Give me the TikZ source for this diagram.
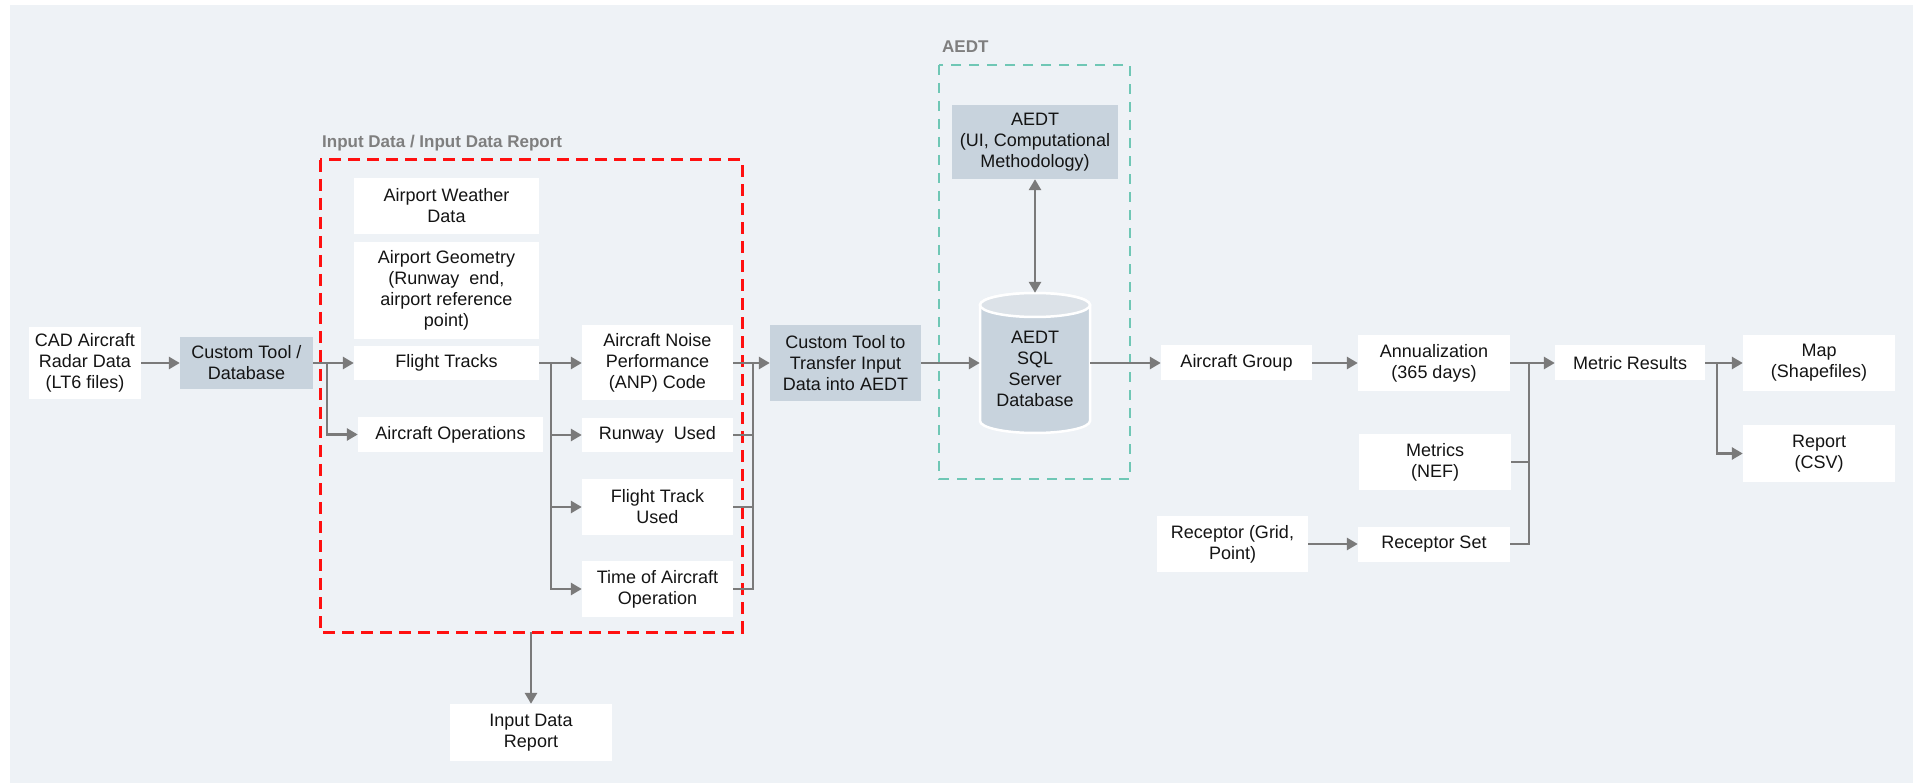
\documentclass[tikz,border=0pt]{standalone}
\usepackage{fontspec}
\setmainfont{Liberation Sans}
\usetikzlibrary{arrows.meta}
\definecolor{bgc}{HTML}{EEF2F6}
\definecolor{boxc}{HTML}{C8D3DD}
\definecolor{dbtop}{HTML}{DCE2E8}
\definecolor{arrc}{HTML}{7A7A7A}
\definecolor{txtc}{HTML}{141414}
\definecolor{redc}{HTML}{FF1010}
\definecolor{tealc}{HTML}{6FC7B5}
\definecolor{lblc}{HTML}{7F7F7F}
\tikzset{
  wbox/.style={fill=white, inner sep=0pt, align=center, text=txtc, font=\fontsize{18}{21}\selectfont},
  gbox/.style={wbox, fill=boxc},
  conn/.style={draw=arrc, line width=2.8pt, -{Triangle[length=11pt,width=12pt]}},
  conn2/.style={draw=arrc, line width=2.8pt, {Triangle[length=11pt,width=12pt]}-{Triangle[length=11pt,width=12pt]}},
  plain/.style={draw=arrc, line width=2.8pt},
  grplabel/.style={anchor=west, inner sep=0pt, text=lblc, font=\fontsize{17}{20}\selectfont\bfseries},
}
\begin{document}
\begin{tikzpicture}[x=1pt,y=-1pt]
\useasboundingbox (0,0) rectangle (1915,783);
\fill[white] (0,0) rectangle (1915,783);
\fill[bgc] (10,5) rectangle (1913,783);

% group frames
\draw[redc, line width=3pt, dash pattern=on 12pt off 7pt] (320,160) rectangle (742,632);
\node[grplabel] (lblin) at (322,143) {Input Data / Input Data Report};
\draw[tealc, line width=2.5pt, dash pattern=on 10pt off 8pt] (939,65) rectangle (1130,479);
\node[grplabel] (lblaedt) at (942,47) {AEDT};

% nodes
\node[wbox, minimum width=112, minimum height=72] (cad) at (85,363) {CAD Aircraft\\Radar Data\\(LT6 files)};
\node[gbox, minimum width=133, minimum height=52] (ct) at (246.5,363) {Custom Tool /\\Database};
\node[wbox, minimum width=185, minimum height=56] (weather) at (446.5,206) {Airport Weather\\Data};
\node[wbox, minimum width=185, minimum height=97] (geom) at (446.5,290.5) {Airport Geometry\\(Runway\ \ end,\\airport reference\\point)};
\node[wbox, minimum width=185, minimum height=34] (ft) at (446.5,363) {Flight Tracks};
\node[wbox, minimum width=185, minimum height=35] (ao) at (450.5,434.5) {Aircraft Operations};
\node[wbox, minimum width=151, minimum height=75] (anp) at (657.5,363) {Aircraft Noise\\Performance\\(ANP) Code};
\node[wbox, minimum width=151, minimum height=34] (ru) at (657.5,435) {Runway\ \ Used};
\node[wbox, minimum width=151, minimum height=56] (ftu) at (657.5,507) {Flight Track\\Used};
\node[wbox, minimum width=151, minimum height=56] (time) at (657.5,589) {Time of Aircraft\\Operation};
\node[wbox, minimum width=162, minimum height=57] (idr) at (531,732.5) {Input Data\\Report};
\node[gbox, minimum width=151, minimum height=76] (ctt) at (845.5,363) {Custom Tool to\\Transfer Input\\Data into AEDT};
\node[gbox, minimum width=166, minimum height=74] (ui) at (1035,142) {AEDT\\(UI, Computational\\Methodology)};

% database cylinder
\path[fill=boxc, draw=white, line width=2.5pt] (980,305) -- (980,421)
  arc[start angle=180, end angle=0, x radius=55, y radius=12] -- (1090,305)
  arc[start angle=0, end angle=-180, x radius=55, y radius=12] -- cycle;
\path[fill=dbtop, draw=white, line width=2.5pt] (1035,305) ellipse [x radius=55, y radius=12];
\node[inner sep=0pt, minimum width=110, minimum height=140] (db) at (1035,363) {};
\node[wbox, fill=none] (dbtxt) at (1035,369) {AEDT\\SQL\\Server\\Database};

\node[wbox, minimum width=151, minimum height=35] (ag) at (1236.5,363) {Aircraft Group};
\node[wbox, minimum width=152, minimum height=56] (ann) at (1434,363) {Annualization\\(365 days)};
\node[wbox, minimum width=152, minimum height=56] (met) at (1435,462) {Metrics\\(NEF)};
\node[wbox, minimum width=151, minimum height=56] (rec) at (1232.5,544) {Receptor (Grid,\\Point)};
\node[wbox, minimum width=152, minimum height=35] (rs) at (1434,544) {Receptor Set};
\node[wbox, minimum width=150, minimum height=35] (mr) at (1630,363) {Metric Results};
\node[wbox, minimum width=152, minimum height=56] (map) at (1819,363) {Map\\(Shapefiles)};
\node[wbox, minimum width=152, minimum height=57] (rep) at (1819,453.5) {Report\\(CSV)};

% branch points
\coordinate (b1) at (327,363);
\coordinate (b2) at (551,363);
\coordinate (b3) at (753,363);
\coordinate (b4) at (1529,363);
\coordinate (b5) at (1717,363);
\coordinate (rb) at (531,632);

% connectors
\draw[conn] (cad.east) -- (ct.west);
\draw[conn] (ct.east) -- (ft.west);
\draw[conn] (b1) |- (ao.west);
\draw[conn] (ft.east) -- (anp.west);
\draw[conn] (b2) |- (ru.west);
\draw[conn] (b2) |- (ftu.west);
\draw[conn] (b2) |- (time.west);
\draw[conn] (anp.east) -- (ctt.west);
\draw[plain] (ru.east) -| (b3);
\draw[plain] (ftu.east) -| (b3);
\draw[plain] (time.east) -| (b3);
\draw[conn] (ctt.east) -- (db.west);
\draw[conn2] (ui.south) -- (db.north);
\draw[conn] (db.east) -- (ag.west);
\draw[conn] (ag.east) -- (ann.west);
\draw[conn] (ann.east) -- (mr.west);
\draw[plain] (met.east) -| (b4);
\draw[plain] (rs.east) -| (b4);
\draw[conn] (rec.east) -- (rs.west);
\draw[conn] (mr.east) -- (map.west);
\draw[conn] (b5) |- (rep.west);
\draw[conn] (rb) -- (idr.north);
\end{tikzpicture}
\end{document}
